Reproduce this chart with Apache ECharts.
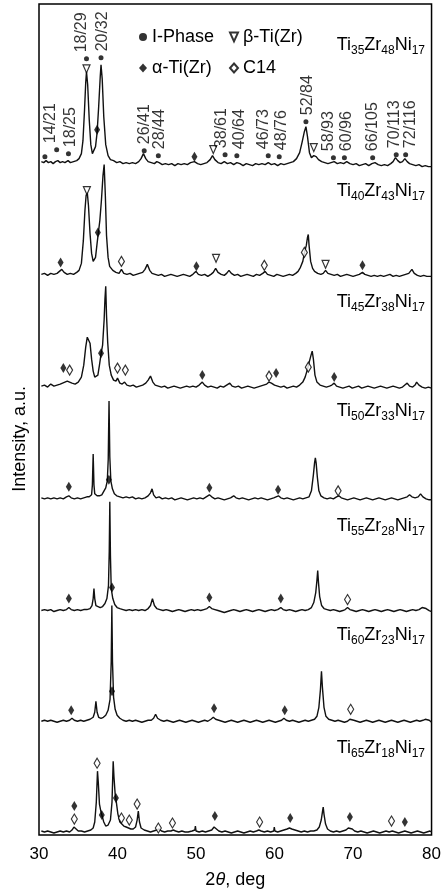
<!DOCTYPE html>
<html>
<head>
<meta charset="utf-8">
<script src="https://cdn.jsdelivr.net/npm/echarts@6/dist/echarts.min.js"></script>
<style>
html,body{margin:0;padding:0;background:#fff;}
#chart{width:444px;height:894px;}
</style>
</head>
<body>
<div id="chart"></div>
<script>
// compositions, top to bottom
var alloys = [['35','48','17'], ['40','43','17'], ['45','38','17'], ['50','33','17'], ['55','28','17'], ['60','23','17'], ['65','18','17']];
// vertical shift of each pattern (a.u.)
var offsets = [672, 561, 449, 337, 225, 114, 3];

// patterns: [2theta, intensity above own baseline]
var p1 = [[30.3,3],[30.6,2],[30.9,4],[31.2,2],[31.5,3],[31.8,1],[32.1,3],[32.4,4],[32.7,2],[33.0,3],[33.3,2],[33.7,4],[34.0,2],[34.4,3],[34.8,4],[35.1,6],[35.4,11],[35.6,24],[35.8,55],[35.95,82],[36.05,93],[36.2,80],[36.4,45],[36.6,20],[36.8,11],[37.0,12],[37.2,18],[37.4,32],[37.6,58],[37.8,88],[37.9,100],[38.05,86],[38.25,48],[38.5,20],[38.8,9],[39.1,5],[39.5,4],[39.9,2],[40.3,3],[40.7,1],[41.1,2],[41.5,1],[41.9,2],[42.3,1],[42.7,3],[43.0,6],[43.3,11],[43.6,6],[43.9,3],[44.3,2],[44.7,1],[45.0,3],[45.3,2],[45.7,0],[46.1,1],[46.5,0],[46.9,1],[47.3,-1],[47.7,1],[48.1,0],[48.5,1],[48.9,0],[49.3,2],[49.8,3],[50.2,1],[50.6,0],[51.0,1],[51.4,2],[51.8,5],[52.1,9],[52.4,5],[52.8,2],[53.2,1],[53.6,3],[54.0,1],[54.4,2],[54.8,0],[55.2,2],[55.6,1],[56.0,-1],[56.4,1],[56.8,0],[57.2,-1],[57.6,1],[58.0,0],[58.4,1],[58.8,0],[59.2,2],[59.6,0],[60.0,1],[60.4,-1],[60.8,1],[61.2,0],[61.6,1],[62.0,2],[62.4,3],[62.8,6],[63.2,12],[63.5,22],[63.8,33],[64.0,38],[64.2,28],[64.45,12],[64.7,7],[65.0,9],[65.3,8],[65.6,5],[66.0,3],[66.4,2],[66.8,1],[67.2,2],[67.6,3],[68.0,1],[68.4,2],[68.8,1],[69.2,3],[69.6,1],[70.0,0],[70.4,1],[70.8,-1],[71.2,0],[71.6,1],[72.0,-1],[72.4,1],[72.8,2],[73.2,0],[73.6,-1],[74.0,0],[74.4,-1],[74.8,1],[75.1,3],[75.4,7],[75.7,4],[76.0,2],[76.3,3],[76.6,6],[76.9,3],[77.2,1],[77.6,0],[78.0,-1],[78.4,0],[78.8,-2],[79.2,-1],[79.6,-2],[80,-2]];
var p2 = [[30.3,1],[30.7,2],[31.1,0],[31.5,2],[31.9,1],[32.3,2],[32.6,4],[32.9,6],[33.2,3],[33.6,1],[34.0,2],[34.4,1],[34.8,3],[35.1,5],[35.4,12],[35.65,35],[35.85,65],[36.0,80],[36.15,83],[36.3,70],[36.5,42],[36.7,22],[36.9,14],[37.05,13],[37.2,18],[37.4,32],[37.55,42],[37.75,55],[37.95,75],[38.15,100],[38.3,111],[38.45,80],[38.6,40],[38.8,18],[39.0,9],[39.4,5],[39.8,3],[40.2,2],[40.5,6],[40.8,2],[41.2,1],[41.6,2],[42.0,0],[42.4,1],[42.8,2],[43.2,3],[43.5,6],[43.8,11],[44.1,5],[44.4,2],[44.8,1],[45.2,0],[45.6,1],[46.0,-1],[46.4,0],[46.8,1],[47.2,0],[47.6,-1],[48.0,0],[48.4,1],[48.8,0],[49.2,-1],[49.6,1],[50.0,4],[50.3,1],[50.7,0],[51.1,1],[51.5,-1],[51.9,1],[52.2,3],[52.5,7],[52.8,3],[53.2,1],[53.6,0],[53.9,2],[54.2,5],[54.5,2],[54.9,0],[55.3,1],[55.7,-1],[56.1,0],[56.5,1],[56.9,0],[57.3,-1],[57.7,1],[58.1,0],[58.5,2],[58.8,4],[59.1,1],[59.5,0],[59.9,-1],[60.3,1],[60.7,0],[61.1,-1],[61.5,0],[61.9,1],[62.3,0],[62.7,2],[63.0,4],[63.3,8],[63.6,14],[63.85,24],[64.05,30],[64.2,38],[64.3,41],[64.4,30],[64.6,14],[64.85,7],[65.1,4],[65.5,2],[65.9,1],[66.2,2],[66.5,5],[66.8,2],[67.2,1],[67.6,0],[68.0,1],[68.4,-1],[68.8,0],[69.2,1],[69.6,0],[70.0,-1],[70.4,0],[70.8,1],[71.2,3],[71.5,1],[71.9,0],[72.3,-1],[72.7,0],[73.1,-1],[73.5,0],[73.9,-1],[74.3,0],[74.7,1],[75.1,-1],[75.5,0],[75.9,-1],[76.3,0],[76.7,1],[77.1,2],[77.5,6],[77.8,2],[78.2,0],[78.6,-1],[79.0,0],[79.4,-1],[79.8,-1],[80,-1]];
var p3 = [[30.3,1],[30.7,2],[31.1,0],[31.5,3],[31.9,1],[32.3,2],[32.7,3],[33.0,4],[33.3,5],[33.6,6],[33.9,5],[34.2,4],[34.6,3],[35.0,5],[35.4,10],[35.7,22],[35.95,40],[36.15,50],[36.3,51],[36.5,44],[36.7,28],[36.9,16],[37.1,10],[37.3,8],[37.5,12],[37.7,22],[37.9,33],[38.1,42],[38.3,68],[38.4,88],[38.5,101],[38.6,72],[38.75,45],[38.95,22],[39.2,12],[39.5,7],[39.8,6],[40.0,9],[40.3,4],[40.6,3],[40.9,5],[41.2,2],[41.6,1],[42.0,2],[42.4,0],[42.8,1],[43.2,2],[43.6,4],[43.9,7],[44.2,11],[44.5,5],[44.8,2],[45.2,1],[45.6,0],[46.0,1],[46.4,-1],[46.8,0],[47.2,1],[47.6,0],[48.0,-1],[48.4,0],[48.8,1],[49.2,0],[49.6,1],[50.0,0],[50.4,2],[50.8,5],[51.1,2],[51.5,0],[51.9,1],[52.3,0],[52.7,-1],[53.1,1],[53.5,0],[53.9,2],[54.3,4],[54.6,1],[55.0,0],[55.4,1],[55.8,-1],[56.2,0],[56.6,1],[57.0,0],[57.4,-1],[57.8,0],[58.2,1],[58.6,2],[59.0,3],[59.3,5],[59.6,4],[60.0,2],[60.4,1],[60.8,0],[61.2,1],[61.6,-1],[62.0,0],[62.4,1],[62.8,0],[63.2,2],[63.6,5],[63.9,10],[64.2,18],[64.45,26],[64.65,32],[64.8,36],[64.95,28],[65.15,12],[65.4,5],[65.8,2],[66.2,1],[66.6,0],[67.0,1],[67.3,2],[67.6,4],[67.9,1],[68.3,0],[68.7,-1],[69.1,0],[69.5,1],[69.9,-1],[70.3,0],[70.7,1],[71.1,-1],[71.5,0],[71.9,1],[72.3,0],[72.7,-1],[73.1,0],[73.5,1],[73.9,0],[74.3,-1],[74.7,0],[75.1,1],[75.5,0],[75.9,-1],[76.3,0],[76.6,2],[76.9,4],[77.2,1],[77.6,0],[77.9,2],[78.1,5],[78.4,2],[78.8,0],[79.2,-1],[79.6,0],[80,-1]];
var p4 = [[30.3,1],[30.7,0],[31.1,1],[31.5,0],[31.9,1],[32.3,0],[32.7,1],[33.1,0],[33.5,2],[33.8,3],[34.1,1],[34.5,0],[34.9,1],[35.3,0],[35.7,1],[36.1,2],[36.4,2],[36.7,4],[36.8,14],[36.9,45],[37.0,14],[37.1,5],[37.4,3],[37.7,3],[38.0,4],[38.25,6],[38.5,11],[38.7,18],[38.82,40],[38.92,98],[39.02,42],[39.15,18],[39.35,10],[39.6,5],[39.9,3],[40.3,2],[40.7,1],[41.1,2],[41.5,1],[41.9,2],[42.3,0],[42.7,1],[43.1,0],[43.5,1],[43.9,3],[44.2,6],[44.4,10],[44.6,4],[44.9,1],[45.3,2],[45.7,0],[46.1,1],[46.5,0],[46.9,1],[47.3,-1],[47.7,0],[48.1,1],[48.5,0],[48.9,-1],[49.3,0],[49.7,1],[50.1,0],[50.5,1],[50.9,0],[51.3,2],[51.7,4],[52.0,2],[52.4,0],[52.8,1],[53.2,0],[53.6,-1],[54.0,0],[54.4,1],[54.8,3],[55.1,1],[55.5,0],[55.9,1],[56.3,0],[56.7,-1],[57.1,0],[57.5,1],[57.9,0],[58.3,1],[58.7,0],[59.1,-1],[59.5,0],[59.9,1],[60.2,2],[60.5,3],[60.8,1],[61.2,0],[61.6,1],[62.0,0],[62.4,-1],[62.8,0],[63.2,1],[63.6,0],[64.0,1],[64.4,2],[64.7,8],[64.95,24],[65.1,36],[65.2,41],[65.3,36],[65.45,22],[65.65,8],[65.9,3],[66.3,1],[66.7,0],[67.1,1],[67.5,0],[67.9,2],[68.2,3],[68.5,1],[68.9,0],[69.3,-1],[69.7,0],[70.1,1],[70.5,0],[70.9,-1],[71.3,0],[71.7,1],[72.1,0],[72.5,-1],[72.9,0],[73.3,1],[73.7,0],[74.1,-1],[74.5,0],[74.9,1],[75.3,0],[75.7,-1],[76.1,0],[76.5,1],[76.9,2],[77.2,4],[77.5,2],[77.9,1],[78.3,2],[78.6,5],[78.9,2],[79.3,0],[79.7,-1],[80,-1]];
var p5 = [[30.3,0],[30.7,1],[31.1,0],[31.5,1],[31.9,-1],[32.3,0],[32.7,1],[33.1,0],[33.5,1],[33.8,3],[34.1,1],[34.5,0],[34.9,1],[35.3,0],[35.7,1],[36.1,1],[36.5,2],[36.75,5],[36.9,12],[37.0,22],[37.1,12],[37.25,5],[37.5,3],[37.8,3],[38.1,4],[38.4,7],[38.65,12],[38.85,25],[38.95,60],[39.02,109],[39.1,55],[39.2,22],[39.4,12],[39.65,6],[39.95,3],[40.3,2],[40.7,1],[41.1,0],[41.5,1],[41.9,0],[42.3,1],[42.7,0],[43.1,1],[43.5,0],[43.9,2],[44.2,5],[44.45,12],[44.7,5],[45.0,2],[45.4,1],[45.8,0],[46.2,1],[46.6,0],[47.0,-1],[47.4,0],[47.8,1],[48.2,0],[48.6,-1],[49.0,0],[49.4,1],[49.8,0],[50.2,1],[50.6,0],[51.0,1],[51.4,2],[51.7,4],[52.0,2],[52.4,1],[52.8,0],[53.2,-1],[53.6,-2],[54.0,-1],[54.4,0],[54.8,1],[55.2,0],[55.6,-1],[56.0,0],[56.4,1],[56.8,0],[57.2,-1],[57.6,0],[58.0,1],[58.4,0],[58.8,-1],[59.2,0],[59.6,1],[60.0,0],[60.4,1],[60.8,3],[61.1,1],[61.5,0],[61.9,1],[62.3,0],[62.7,-1],[63.1,0],[63.5,1],[63.9,0],[64.3,1],[64.7,3],[65.0,8],[65.25,18],[65.4,30],[65.5,40],[65.6,28],[65.75,14],[66.0,5],[66.3,2],[66.7,1],[67.1,0],[67.5,1],[67.9,0],[68.3,-1],[68.7,0],[69.0,1],[69.3,3],[69.6,1],[70.0,0],[70.4,-1],[70.8,0],[71.2,1],[71.6,0],[72.0,-1],[72.4,0],[72.8,1],[73.2,0],[73.6,-1],[74.0,0],[74.4,1],[74.8,0],[75.2,-1],[75.6,0],[76.0,1],[76.4,0],[76.8,-1],[77.2,0],[77.6,1],[78.0,0],[78.4,1],[78.8,3],[79.05,5],[79.3,2],[79.7,0],[80,-1]];
var p6 = [[30.3,0],[30.7,1],[31.1,0],[31.5,1],[31.9,0],[32.3,-1],[32.7,0],[33.1,1],[33.5,0],[33.9,1],[34.2,3],[34.5,1],[34.9,0],[35.3,1],[35.7,0],[36.1,1],[36.5,2],[36.9,4],[37.1,9],[37.25,20],[37.4,9],[37.6,4],[37.9,3],[38.2,4],[38.5,6],[38.8,11],[39.05,22],[39.2,60],[39.28,116],[39.36,60],[39.5,24],[39.7,12],[39.95,6],[40.3,3],[40.7,1],[41.1,0],[41.5,1],[41.9,0],[42.3,1],[42.7,0],[43.1,-1],[43.5,0],[43.9,1],[44.3,1],[44.6,3],[44.85,7],[45.1,3],[45.5,1],[45.9,0],[46.3,1],[46.7,0],[47.1,-1],[47.5,0],[47.9,1],[48.3,0],[48.7,-1],[49.1,0],[49.5,1],[49.9,0],[50.3,-1],[50.7,0],[51.1,1],[51.5,0],[51.9,2],[52.2,4],[52.5,2],[52.9,1],[53.3,0],[53.7,-1],[54.1,0],[54.5,1],[54.9,0],[55.3,-1],[55.7,0],[56.1,1],[56.5,0],[56.9,-1],[57.3,0],[57.7,1],[58.1,0],[58.5,-1],[58.9,0],[59.3,1],[59.7,0],[60.1,-1],[60.5,0],[60.9,1],[61.2,3],[61.5,1],[61.9,0],[62.3,1],[62.7,0],[63.1,-1],[63.5,0],[63.9,1],[64.3,0],[64.7,1],[65.1,2],[65.4,5],[65.65,14],[65.85,32],[65.98,50],[66.1,34],[66.3,14],[66.55,5],[66.9,2],[67.3,1],[67.7,0],[68.1,1],[68.5,0],[68.9,-1],[69.3,0],[69.6,2],[69.85,3],[70.1,1],[70.5,0],[70.9,-1],[71.3,0],[71.7,1],[72.1,0],[72.5,-1],[72.9,0],[73.3,1],[73.7,0],[74.1,-1],[74.5,0],[74.9,1],[75.3,0],[75.7,-1],[76.1,0],[76.5,1],[76.9,0],[77.3,-1],[77.7,0],[78.1,1],[78.5,0],[78.9,1],[79.2,2],[79.45,3],[79.7,1],[80,-1]];
var p7 = [[30.3,1],[30.7,0],[31.1,1],[31.5,0],[31.9,-1],[32.3,0],[32.7,1],[33.1,0],[33.5,1],[33.9,0],[34.2,2],[34.45,5],[34.7,3],[35.0,1],[35.4,1],[35.8,0],[36.2,1],[36.6,2],[36.9,4],[37.1,10],[37.3,30],[37.45,61],[37.55,50],[37.7,28],[37.9,20],[38.05,18],[38.25,10],[38.5,6],[38.8,7],[39.1,12],[39.3,30],[39.45,71],[39.55,55],[39.7,38],[39.85,30],[40.05,18],[40.3,10],[40.55,8],[40.8,6],[41.1,5],[41.4,4],[41.7,3],[42.0,3],[42.3,5],[42.5,12],[42.65,21],[42.8,10],[43.0,4],[43.4,2],[43.8,1],[44.2,0],[44.6,1],[45.0,2],[45.3,3],[45.6,1],[46.0,0],[46.4,1],[46.8,1],[47.1,2],[47.4,1],[47.8,0],[48.2,1],[48.6,0],[49.0,0],[49.5,1],[49.85,2],[49.92,6],[50.0,1],[50.4,0],[50.8,1],[51.2,0],[51.6,1],[52.0,2],[52.3,5],[52.6,3],[52.9,1],[53.3,0],[53.7,1],[54.1,0],[54.5,-1],[54.9,0],[55.3,1],[55.7,0],[56.1,-1],[56.5,0],[56.9,1],[57.3,0],[57.7,1],[58.0,2],[58.3,1],[58.7,0],[59.1,1],[59.5,0],[59.9,1],[59.97,5],[60.05,1],[60.4,0],[60.8,1],[61.2,2],[61.6,3],[61.9,4],[62.2,3],[62.6,2],[63.0,1],[63.4,0],[63.8,1],[64.2,0],[64.6,1],[65.0,1],[65.4,2],[65.7,5],[65.95,12],[66.1,20],[66.2,25],[66.3,18],[66.5,8],[66.75,3],[67.1,1],[67.5,0],[67.9,1],[68.3,0],[68.7,1],[69.1,2],[69.4,4],[69.65,5],[69.9,3],[70.2,1],[70.6,0],[71.0,1],[71.4,0],[71.8,-1],[72.2,0],[72.6,1],[73.0,0],[73.4,-1],[73.8,0],[74.2,1],[74.6,0],[75.0,1],[75.4,0],[75.8,-1],[76.2,0],[76.6,1],[77.0,0],[77.4,-1],[77.8,0],[78.2,1],[78.6,0],[79.0,-1],[79.4,0],[79.8,1],[80,0]];
var patterns = [p1, p2, p3, p4, p5, p6, p7];

// phase markers: [pattern index, 2theta, height above baseline]
var iPhase = [[0,30.75,8],[0,32.25,15],[0,33.75,11],[0,36.05,106],[0,37.9,107],[0,43.4,14],[0,45.2,9],[0,53.7,10],[0,55.2,9],[0,59.2,9],[0,60.6,8],[0,64.0,43],[0,67.5,7],[0,68.9,7],[0,72.5,7],[0,75.5,10],[0,76.7,10]];
var iPhaseHkl = ['', '14/21', '18/25', '18/29', '20/32', '26/41', '28/44', '38/61', '40/64', '46/73', '48/76', '52/84', '58/93', '60/96', '66/105', '70/113', '72/116'];
var alphaTi = [[0,37.4,35],[0,49.8,8],
  [1,32.75,13],[1,37.5,43],[1,50.05,9],[1,71.2,10],
  [2,33.1,19],[2,37.9,34],[2,50.8,12],[2,60.2,14],[2,67.6,10],
  [3,33.8,12],[3,38.9,19],[3,51.7,11],[3,60.45,9],
  [4,33.8,12],[4,39.3,23],[4,51.7,13],[4,60.8,12],
  [5,34.1,11],[5,39.3,30],[5,52.3,13],[5,61.3,11],
  [6,34.5,26],[6,38.0,17],[6,39.8,34],[6,52.4,16],[6,62.0,14],[6,69.6,15],[6,76.6,10]];
var betaTi = [[0,36.05,96],[0,52.2,15],[0,65.0,17],
  [1,36.1,85],[1,52.55,17],[1,66.5,11]];
var c14 = [[1,40.5,14],[1,58.7,10],[1,63.8,23],
  [2,33.9,17],[2,40.0,19],[2,41.0,17],[2,59.3,11],[2,64.3,20],
  [3,68.1,8],
  [4,69.3,11],
  [5,69.7,12],
  [6,34.5,13],[6,37.4,69],[6,40.5,14],[6,41.5,12],[6,42.5,28],[6,45.2,4],[6,47.0,9],[6,58.1,10],[6,74.9,11]];

var xTicks = [30, 40, 50, 60, 70, 80];

// sideways nudge of each hkl label (px, + = right), so neighbours do not collide
var hklNudge = [0, -6, 2, -5, 2, 0, 1, -3, 3, -5, 2, 2, -5, 2, 0, -2, 5];

function shift(list) {
  return list.map(function (m) { return [m[1], m[2] + offsets[m[0]]]; });
}

var font = 'Liberation Sans, Arial, sans-serif';
var series = patterns.map(function (p, k) {
  return {
    type: 'line',
    name: 'Ti' + alloys[k][0] + 'Zr' + alloys[k][1] + 'Ni' + alloys[k][2],
    showSymbol: false,
    lineStyle: {color: '#111', width: 1.4},
    data: p.map(function (d) { return [d[0], d[1] + offsets[k]]; }),
    z: 2
  };
});
series.push({
  type: 'scatter', name: 'I-Phase', symbol: 'circle', symbolSize: 5,
  itemStyle: {color: '#000'},
  // label is turned 90 degrees, so its local y axis points right on screen
  data: shift(iPhase).map(function (v, i) {
    return {value: v, label: {offset: [0, hklNudge[i]]}};
  }),
  label: {
    show: true, position: 'top', distance: 4, rotate: 90,
    align: 'left', verticalAlign: 'middle',
    fontFamily: font, fontSize: 16, color: '#000',
    formatter: function (p) { return iPhaseHkl[p.dataIndex]; }
  },
  z: 3
});
series.push({
  type: 'scatter', name: 'α-Ti(Zr)', symbol: 'diamond', symbolSize: [6, 10],
  itemStyle: {color: '#000'}, data: shift(alphaTi), z: 3
});
series.push({
  type: 'scatter', name: 'β-Ti(Zr)', symbol: 'path://M0,0L10,0L5,11Z', symbolSize: [7, 8],
  itemStyle: {color: '#fff', borderColor: '#000', borderWidth: 1.2}, data: shift(betaTi), z: 3
});
series.push({
  type: 'scatter', name: 'C14', symbol: 'diamond', symbolSize: [6, 10],
  itemStyle: {color: '#fff', borderColor: '#000', borderWidth: 1.2}, data: shift(c14), z: 3
});

var labelY = [47, 193, 304, 413, 528, 637, 750];
var graphics = alloys.map(function (a, k) {
  return {
    type: 'text', right: 19, top: labelY[k] - 11,
    style: {
      text: 'Ti{s|' + a[0] + '}Zr{s|' + a[1] + '}Ni{s|' + a[2] + '}',
      fontFamily: font, fontSize: 18, fill: '#000',
      rich: {s: {fontFamily: font, fontSize: 12, fill: '#000', verticalAlign: 'bottom', lineHeight: 24}}
    }
  };
});
graphics.push({
  type: 'text', left: 11, top: 386, rotation: Math.PI / 2,
  style: {text: 'Intensity, a.u.', fontFamily: font, fontSize: 18, fill: '#000'}
});

var legendText = {fontFamily: font, fontSize: 18, color: '#000', lineHeight: 20};
var myChart = echarts.init(document.getElementById('chart'));
var option = {
  animation: false,
  backgroundColor: '#fff',
  grid: {left: 39, right: 7, top: 4, bottom: 57, show: true, borderColor: '#000', borderWidth: 1.5},
  legend: [
    {left: 134, top: 22, orient: 'vertical', itemGap: 11, itemWidth: 8, itemHeight: 9,
     selectedMode: false, textStyle: legendText, data: ['I-Phase', 'α-Ti(Zr)']},
    {left: 224, top: 22, orient: 'vertical', itemGap: 11, itemWidth: 8, itemHeight: 9,
     selectedMode: false, textStyle: legendText, data: ['β-Ti(Zr)', 'C14']}
  ],
  xAxis: {
    type: 'value', min: xTicks[0], max: xTicks[xTicks.length - 1], interval: 10,
    axisLine: {show: false}, axisTick: {show: false}, splitLine: {show: false},
    axisLabel: {fontFamily: font, fontSize: 17, color: '#000', margin: 11},
    name: '2{i|θ}, deg', nameLocation: 'middle', nameGap: 36,
    nameTextStyle: {fontFamily: font, fontSize: 18, color: '#000',
      rich: {i: {fontFamily: font, fontSize: 18, fontStyle: 'italic', color: '#000'}}}
  },
  yAxis: {type: 'value', min: 0, max: 833, show: false},
  graphic: graphics,
  series: series
};
myChart.setOption(option);
</script>
</body>
</html>
